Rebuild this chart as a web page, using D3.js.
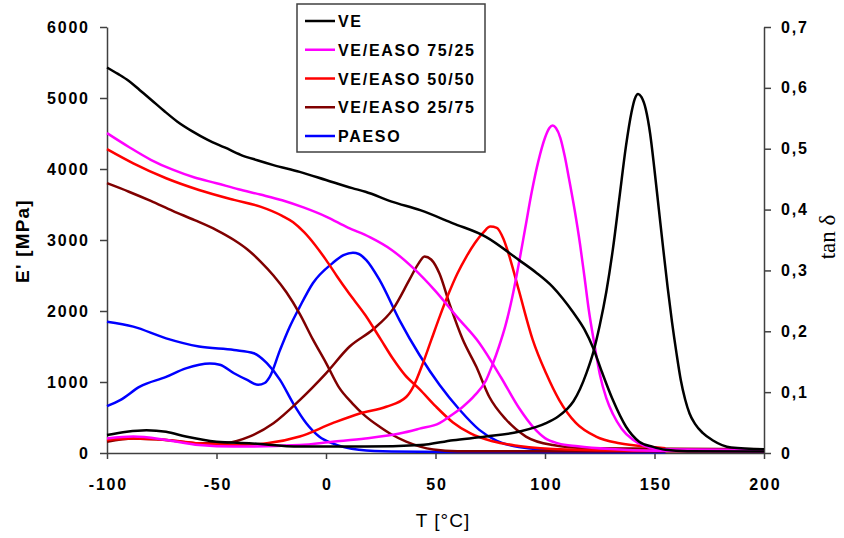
<!DOCTYPE html>
<html>
<head>
<meta charset="utf-8">
<script src="https://cdn.jsdelivr.net/npm/d3@7"></script>
<style>
  body { margin: 0; background: #fff; }
  svg { display: block; }
  .tick text { font-family: "Liberation Sans", Arial, sans-serif; font-weight: bold; font-size: 16px; letter-spacing: 1.8px; fill: #000; }
  .axis path, .axis line { stroke: #404040; stroke-width: 1.5px; }
  .curve { fill: none; stroke-width: 2.5px; stroke-linejoin: round; }
</style>
</head>
<body>
<div id="chart"></div>
<script>
// Temperature sweep, E' [MPa] on the left axis, tan delta on the right axis
// every series is a list of [T, value] pairs

var seriesNames = ['VE', 'VE/EASO 75/25', 'VE/EASO 50/50', 'VE/EASO 25/75', 'PAESO'];
var seriesColors = ['#000000', '#ff00ff', '#ff0000', '#800000', '#0000ff'];

var xTicks = [-100, -50, 0, 50, 100, 150, 200];
var yTicks = [0, 1000, 2000, 3000, 4000, 5000, 6000];
var y2Ticks = [0, 0.1, 0.2, 0.3, 0.4, 0.5, 0.6, 0.7];

// storage modulus E'
var veE = [[-100,5430],[-95,5340],[-90,5240],[-85,5110],[-80,4980],[-74,4820],[-68,4670],[-61,4530],[-54,4410],[-46,4300],[-39,4200],[-31,4120],[-24,4055],[-12,3960],[0,3845],[12,3730],[18,3680],[30,3540],[43,3420],[58,3235],[73,3045],[88,2720],[96,2540],[103.5,2340],[108,2180],[113,1975],[118,1740],[122,1480],[126,1140],[131,745],[137,370],[143,160],[149,90],[155,45],[165,25],[200,20]];
var ve75E = [[-100,4505],[-90,4310],[-80,4130],[-70,3990],[-60,3880],[-50,3800],[-40,3715],[-30,3640],[-20,3560],[-10,3455],[0,3330],[10,3175],[20,3040],[30,2860],[40,2600],[50,2280],[60,1910],[70,1550],[80,1060],[88,640],[95,350],[100,210],[106,136],[115,95],[130,55],[150,30],[200,20]];
var ve50E = [[-100,4280],[-88,4080],[-73,3870],[-58,3705],[-42,3565],[-30,3470],[-20,3340],[-15,3250],[-10,3110],[-5,2930],[0,2720],[5,2490],[10,2270],[18,1940],[25,1600],[30.5,1330],[36,1100],[42.7,900],[50,660],[58,430],[66,275],[76,165],[88,100],[110,50],[155,30]];
var ve25E = [[-100,3800],[-90,3680],[-80,3550],[-70,3410],[-60,3280],[-50,3140],[-42,3000],[-36,2870],[-30,2700],[-24,2500],[-18,2260],[-12,1960],[-6,1600],[0,1270],[6,920],[12,700],[18,520],[24.5,370],[30,260],[36.6,160],[43,90],[49,50],[60,25],[200,20]];
var paesoE = [[-100,1850],[-88,1780],[-73,1615],[-58,1500],[-42,1450],[-33,1405],[-27,1265],[-21,1030],[-15,700],[-9,420],[-3,230],[3,135],[15,45],[30,20],[60,15],[155,10]];

// loss factor tan delta
var veTan = [[-100,0.0295],[-91,0.035],[-82,0.0375],[-73,0.035],[-64,0.027],[-50,0.0185],[-35,0.016],[-12,0.0105],[18,0.0105],[43,0.013],[58,0.021],[73,0.027],[88,0.035],[100.5,0.049],[106,0.06],[110,0.072],[113,0.085],[116,0.105],[119,0.132],[122,0.165],[125,0.21],[128,0.265],[131,0.335],[134,0.42],[137,0.505],[139.5,0.56],[141,0.582],[142.5,0.59],[144,0.585],[146,0.565],[148,0.525],[150,0.465],[152,0.4],[154,0.335],[156,0.272],[158,0.215],[160,0.165],[162,0.12],[164,0.088],[166,0.065],[168.5,0.048],[172,0.033],[176.5,0.021],[185,0.009],[200,0.006]];
var ve75Tan = [[-100,0.024],[-88,0.027],[-73,0.0215],[-58,0.013],[-42,0.0105],[-12,0.013],[3,0.0185],[18,0.024],[33.6,0.032],[42.7,0.04],[51.8,0.049],[56.4,0.06],[62.5,0.076],[68,0.095],[73,0.119],[76,0.145],[79,0.175],[82,0.21],[85,0.255],[88,0.31],[91,0.37],[94,0.43],[97,0.48],[100,0.518],[102,0.534],[103.5,0.538],[105,0.534],[107,0.518],[109,0.488],[111,0.45],[113.5,0.4],[116,0.343],[118,0.29],[120,0.235],[122.5,0.18],[125,0.13],[128,0.09],[131,0.064],[135,0.04],[140,0.022],[145,0.012],[152,0.006],[200,0.005]];
var ve50Tan = [[-100,0.0215],[-88,0.024],[-73,0.0215],[-58,0.016],[-42,0.013],[-27,0.016],[-12,0.027],[3,0.049],[15.4,0.065],[27.5,0.076],[36.6,0.092],[40,0.11],[44,0.145],[48,0.185],[52,0.225],[56,0.262],[60,0.295],[64,0.322],[68,0.345],[72,0.363],[75,0.372],[78,0.37],[81,0.352],[84,0.32],[88,0.268],[94.4,0.186],[100.5,0.131],[106.5,0.087],[114.2,0.049],[123.3,0.027],[134,0.016],[149,0.01],[155,0.008]];
var ve25Tan = [[-100,0.0185],[-88,0.024],[-73,0.0215],[-58,0.016],[-45,0.017],[-35,0.027],[-24,0.049],[-12,0.087],[0,0.131],[10.8,0.175],[21.4,0.203],[30.5,0.236],[38,0.284],[42,0.31],[45,0.323],[48,0.318],[51.8,0.295],[56.4,0.245],[62.5,0.186],[68.6,0.142],[74.6,0.092],[82.2,0.055],[91.3,0.027],[103.5,0.013],[119,0.008],[200,0.006]];
var paesoTan = [[-100,0.077],[-94,0.087],[-85,0.109],[-73,0.125],[-64,0.139],[-53,0.147],[-48.5,0.145],[-42,0.131],[-36,0.12],[-31,0.112],[-28,0.115],[-25.7,0.125],[-21,0.169],[-16.6,0.207],[-12,0.24],[-6,0.279],[3,0.312],[8,0.325],[12.3,0.329],[15,0.327],[18.4,0.317],[24.5,0.284],[33.6,0.218],[42.7,0.161],[51.8,0.112],[61,0.071],[70,0.038],[78,0.02],[88,0.01],[110,0.004],[155,0.003]];

var modulusData = [veE, ve75E, ve50E, ve25E, paesoE];
var tanData = [veTan, ve75Tan, ve50Tan, ve25Tan, paesoTan];

var width = 844, height = 538;
var plotLeft = 107, plotRight = 764, plotTop = 27, plotBottom = 453;

var svg = d3.select('#chart').append('svg').attr('width', width).attr('height', height);

var x = d3.scaleLinear().domain([-100, 200]).range([plotLeft, plotRight]);
var y = d3.scaleLinear().domain([0, 6000]).range([plotBottom, plotTop]);
var y2 = d3.scaleLinear().domain([0, 0.7]).range([plotBottom, plotTop]);

function commaFormat(d) {
  if (d == 0) return '0';
  return d3.format('.1f')(d).replace('.', ',');
}
function plainFormat(d) { return String(d); } // keeps the ascii hyphen for negatives

//Axes
svg.append('g').attr('class', 'axis').attr('transform', 'translate(0,' + plotBottom + ')')
  .call(d3.axisBottom(x).tickValues(xTicks).tickFormat(plainFormat).tickSize(6).tickSizeOuter(0).tickPadding(20))
  .selectAll('text').attr('dx', '0.9px');
svg.append('g').attr('class', 'axis').attr('transform', 'translate(' + plotLeft + ',0)')
  .call(d3.axisLeft(y).tickValues(yTicks).tickFormat(plainFormat).tickSize(7).tickSizeOuter(0).tickPadding(12))
  .selectAll('text').attr('dx', '1.8px');
svg.append('g').attr('class', 'axis').attr('transform', 'translate(' + plotRight + ',0)')
  .call(d3.axisRight(y2).tickValues(y2Ticks).tickFormat(commaFormat).tickSize(7).tickSizeOuter(0).tickPadding(10));

//Axis titles
svg.append('text').attr('transform', 'translate(29,241) rotate(-90)')
  .attr('text-anchor', 'middle').attr('font-family', 'Liberation Sans, Arial, sans-serif')
  .attr('font-weight', 'bold').attr('font-size', '19px').attr('letter-spacing', '1.2px')
  .text("E' [MPa]");
svg.append('text').attr('x', 443).attr('y', 527)
  .attr('text-anchor', 'middle').attr('font-family', 'Liberation Sans, Arial, sans-serif')
  .attr('font-size', '19px').attr('letter-spacing', '1px')
  .text('T [°C]');
svg.append('text').attr('transform', 'translate(835,237) rotate(-90)')
  .attr('text-anchor', 'middle').attr('font-family', 'Liberation Serif, Times New Roman, serif')
  .attr('font-size', '23px')
  .text('tan δ');

//Curves
var lineE = d3.line().x(function(d) { return x(d[0]); }).y(function(d) { return y(d[1]); }).curve(d3.curveMonotoneX);
var lineTan = d3.line().x(function(d) { return x(d[0]); }).y(function(d) { return y2(d[1]); }).curve(d3.curveMonotoneX);

var plot = svg.append('g');
for (var i = seriesNames.length - 1; i >= 0; i--) {
  plot.append('path').attr('class', 'curve').attr('stroke', seriesColors[i]).attr('d', lineTan(tanData[i]));
  plot.append('path').attr('class', 'curve').attr('stroke', seriesColors[i]).attr('d', lineE(modulusData[i]));
}

//Legend
var legend = svg.append('g');
legend.append('rect').attr('x', 297).attr('y', 4).attr('width', 188).attr('height', 148)
  .attr('fill', '#fff').attr('stroke', '#404040').attr('stroke-width', 1.5);
var rowY = d3.scalePoint().domain(seriesNames).range([21, 136]);
var rows = legend.selectAll('.row').data(seriesNames).enter().append('g')
  .attr('transform', function(d) { return 'translate(0,' + rowY(d) + ')'; });
rows.append('line').attr('x1', 305).attr('x2', 335)
  .attr('stroke', function(d, i) { return seriesColors[i]; }).attr('stroke-width', 2.5);
rows.append('text').attr('x', 338).attr('y', 6)
  .attr('font-family', 'Liberation Sans, Arial, sans-serif').attr('font-weight', 'bold')
  .attr('font-size', '16px').attr('letter-spacing', '1.7px')
  .text(function(d) { return d; });
</script>
</body>
</html>
